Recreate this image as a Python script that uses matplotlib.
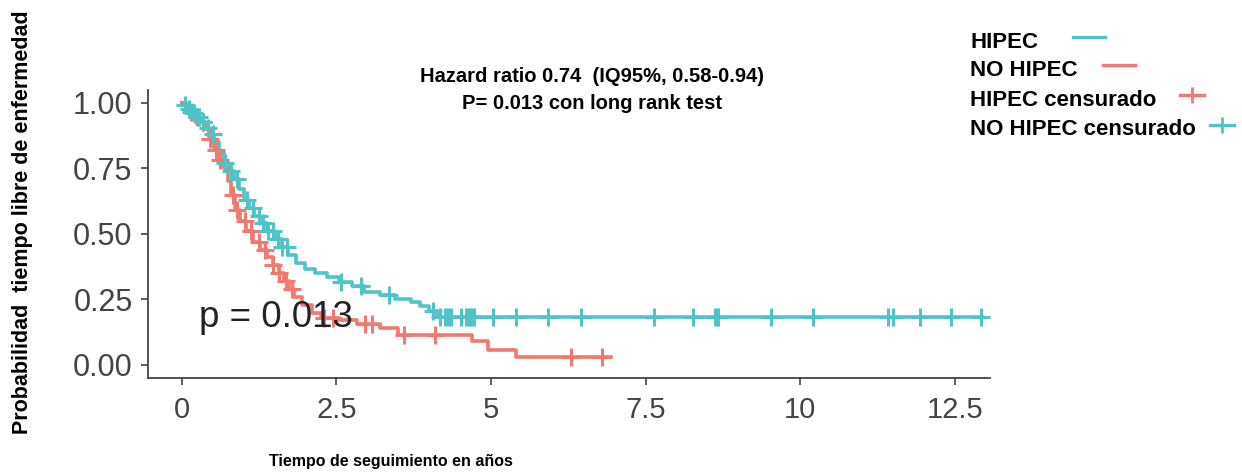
import numpy as np
import matplotlib
matplotlib.use('Agg')
import matplotlib.pyplot as plt
from matplotlib.lines import Line2D

plt.rcParams['font.family'] = ['Liberation Sans', 'DejaVu Sans']

TEAL = '#4FC3C6'
RED = '#F07A70'

# HIPEC curve (teal): step times and survival
hipec_t = [0, 0.05, 0.10, 0.16, 0.22, 0.30, 0.38, 0.45, 0.52, 0.60, 0.68, 0.76,
           0.85, 0.92, 1.00, 1.08, 1.16, 1.26, 1.38, 1.50, 1.62, 1.72, 1.85,
           2.00, 2.15, 2.35, 2.55, 2.75, 2.95, 3.20, 3.45, 3.70, 3.85, 4.00,
           4.12, 12.95]
hipec_s = [1.00, 0.99, 0.975, 0.96, 0.945, 0.925, 0.905, 0.88, 0.85, 0.81, 0.77,
           0.74, 0.71, 0.67, 0.63, 0.60, 0.57, 0.54, 0.51, 0.48, 0.45, 0.42,
           0.39, 0.365, 0.35, 0.335, 0.315, 0.30, 0.28, 0.265, 0.25, 0.24,
           0.225, 0.205, 0.183, 0.183]
hipec_cens = [0.05, 0.12, 0.20, 0.28, 0.35, 0.42, 0.50, 0.70, 0.80, 0.90, 1.05,
              1.15, 1.25, 1.32, 1.40, 1.48, 1.55, 1.62, 1.70, 2.57, 2.90, 3.35,
              4.07, 4.18, 4.26, 4.31, 4.36, 4.51, 4.59, 4.64, 4.68, 4.72, 5.04,
              5.41, 5.93, 6.45, 7.63, 8.27, 8.63, 8.68, 9.53, 10.21, 11.42,
              11.50, 11.94, 12.44, 12.92]

# NO HIPEC curve (red)
nohipec_t = [0, 0.06, 0.14, 0.22, 0.30, 0.38, 0.45, 0.52, 0.60, 0.68, 0.75, 0.80,
             0.86, 0.94, 1.04, 1.15, 1.27, 1.38, 1.48, 1.58, 1.66, 1.74, 1.82,
             1.95, 2.10, 2.25, 2.55, 2.83, 3.20, 3.50, 4.69, 4.96, 5.40, 6.95]
nohipec_s = [1.00, 0.985, 0.965, 0.945, 0.925, 0.90, 0.86, 0.82, 0.78, 0.75,
             0.70, 0.65, 0.59, 0.55, 0.51, 0.47, 0.44, 0.41, 0.38, 0.35, 0.32,
             0.29, 0.26, 0.23, 0.20, 0.18, 0.17, 0.155, 0.14, 0.115, 0.09,
             0.057, 0.03, 0.03]
nohipec_cens = [0.15, 0.25, 0.35, 0.45, 0.55, 0.62, 0.82, 0.90, 1.02, 1.12, 1.25,
                1.35, 1.48, 1.58, 1.68, 1.78, 2.30, 2.45, 2.97, 3.07, 3.60, 4.10,
                6.30, 6.80]

x_ticks = [0, 2.5, 5, 7.5, 10, 12.5]
x_ticklabels = ['0', '2.5', '5', '7.5', '10', '12.5']
y_ticks = [0, 0.25, 0.5, 0.75, 1.0]
y_ticklabels = ['0.00', '0.25', '0.50', '0.75', '1.00']


def surv_at(times, surv, t):
    idx = np.searchsorted(times, t, side='right') - 1
    return np.asarray(surv)[idx]


fig = plt.figure(figsize=(12.42, 4.72), dpi=100)
ax = fig.add_axes([0.119, 0.199, 0.678, 0.611])

ax.step(hipec_t, hipec_s, where='post', color=TEAL, lw=2.6)
ax.step(nohipec_t, nohipec_s, where='post', color=RED, lw=2.6)
ax.plot(nohipec_cens, surv_at(nohipec_t, nohipec_s, nohipec_cens), '+',
        color=RED, ms=13, mew=2.2)
ax.plot(hipec_cens, surv_at(hipec_t, hipec_s, hipec_cens), '+',
        color=TEAL, ms=13, mew=2.2)

ax.text(0.28, 0.18, 'p = 0.013', fontsize=26.5, color='#222222', va='center', ha='left')

ax.set_xlim(-0.55, 13.07)
ax.set_ylim(-0.05, 1.05)
ax.set_xticks(x_ticks)
ax.set_xticklabels(x_ticklabels)
ax.set_yticks(y_ticks)
ax.set_yticklabels(y_ticklabels)
ax.tick_params(axis='x', labelsize=21, colors='#444444', length=5, width=1.2, pad=8)
ax.tick_params(axis='y', labelsize=22, colors='#444444', length=5, width=1.2, pad=6)
for sp in ['top', 'right']:
    ax.spines[sp].set_visible(False)
for sp in ['left', 'bottom']:
    ax.spines[sp].set_color('#444444')
    ax.spines[sp].set_linewidth(1.3)

# Title lines
fig.text(0.477, 0.838, 'Hazard ratio 0.74  (IQ95%, 0.58-0.94)', fontsize=14.5,
         fontweight='bold', ha='center', va='center')
fig.text(0.477, 0.780, 'P= 0.013 con long rank test', fontsize=14.5,
         fontweight='bold', ha='center', va='center')

# Axis labels
fig.text(0.018, 0.53, 'Probabilidad  tiempo libre de enfermedad', fontsize=15.5,
         fontweight='bold', rotation=90, ha='center', va='center')
fig.text(0.315, 0.022, 'Tiempo de seguimiento en años', fontsize=11.5,
         fontweight='bold', ha='center', va='center')

# Legend
leg_labels = ['HIPEC', 'NO HIPEC', 'HIPEC censurado', 'NO HIPEC censurado']
leg_y = [42, 70, 100, 130]
leg_x0 = [1073, 1103, 1180, 1210]
leg_color = [TEAL, RED, RED, TEAL]
W, H = 1242, 472
for lab, yy, xx, col, i in zip(leg_labels, leg_y, leg_x0, leg_color, range(4)):
    fig.text(970 / W, 1 - yy / H, lab, fontsize=16, fontweight='bold',
             ha='left', va='center')
    ly = 1 - (yy - 5) / H
    if i < 2:
        fig.add_artist(Line2D([xx / W, (xx + 32) / W], [ly, ly], color=col, lw=2.4))
    else:
        fig.add_artist(Line2D([xx / W, (xx + 24) / W], [ly, ly], color=col, lw=2.4))
        fig.add_artist(Line2D([(xx + 12) / W], [ly], marker='+', color=col,
                              ms=12, mew=2.0))

fig.savefig('out.png', dpi=100)
